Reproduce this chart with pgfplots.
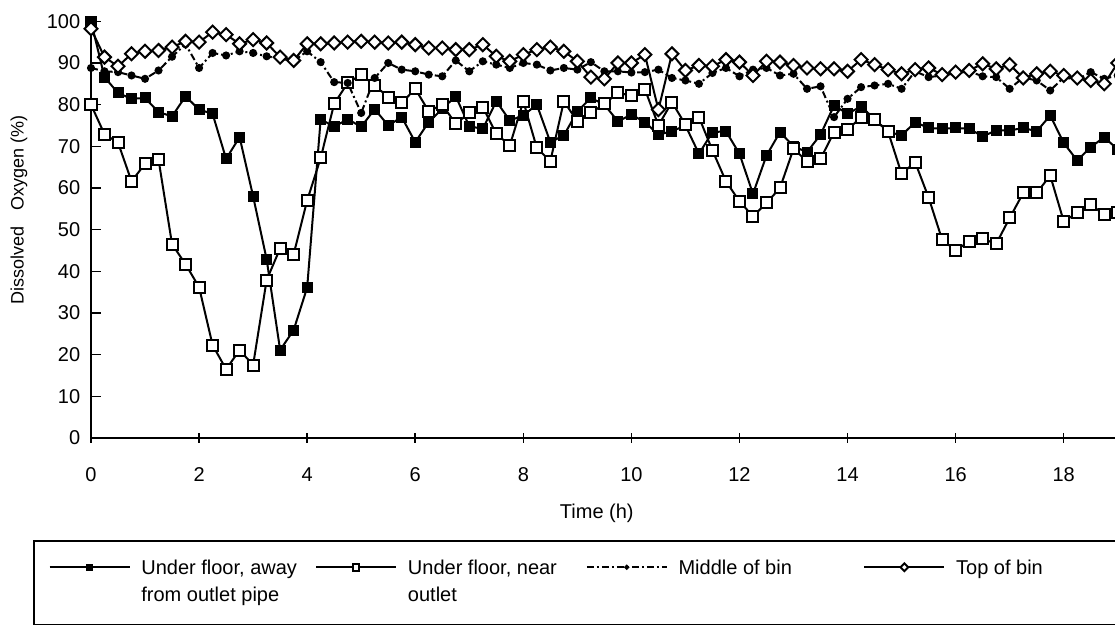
\documentclass[border=0pt]{standalone}
\usepackage{fontspec}
\setmainfont{Liberation Sans}
\usepackage{pgfplots}
\pgfplotsset{compat=1.18}
\usepackage{pgfplotstable}
\usepackage{array}
\renewcommand{\arraystretch}{1.125}
\pgfplotstableread{
x A B C D
0 100 80.0 88.8 98.2
0.25 86.6 72.9 88.0 91.4
0.5 82.8 70.9 87.8 89.2
0.75 81.4 61.6 87.0 92.2
1 81.6 65.8 86.2 92.8
1.25 78.2 66.8 88.2 93.0
1.5 77.2 46.5 91.5 93.8
1.75 82.0 41.7 94.5 95.2
2 78.8 36.2 88.8 95.0
2.25 77.8 22.3 92.4 97.4
2.5 67.0 16.5 91.8 96.8
2.75 72.2 21.1 92.8 94.6
3 58.0 17.5 92.4 95.6
3.25 42.9 37.9 91.6 94.8
3.5 21.1 45.5 91.0 91.4
3.75 25.9 44.1 90.5 90.6
4 36.1 57.0 92.8 94.6
4.25 76.5 67.2 90.2 94.6
4.5 74.7 80.2 85.4 94.8
4.75 76.5 85.2 85.2 95.0
5 74.7 87.2 78.0 95.2
5.25 78.9 84.6 86.4 95.0
5.5 75.0 81.8 90.0 94.8
5.75 77.0 80.4 88.4 95.0
6 71.0 83.8 88.0 94.4
6.25 75.8 78.4 87.2 93.6
6.5 79.0 80.0 86.8 93.6
6.75 82.0 75.4 90.6 93.2
7 74.8 78.0 88.0 93.2
7.25 74.2 79.4 90.4 94.4
7.5 80.8 73.0 89.6 91.6
7.75 76.2 70.2 88.8 90.4
8 77.4 80.8 90.0 92.0
8.25 80.0 69.6 89.6 93.2
8.5 71.0 66.4 88.2 93.8
8.75 72.6 80.8 88.8 92.8
9 78.4 76.0 88.4 90.4
9.25 81.6 78.0 90.2 86.6
9.5 80.0 80.2 88.0 86.2
9.75 76.0 82.8 88.0 90.0
10 77.6 82.2 87.7 90.0
10.25 75.8 83.7 87.8 92.0
10.5 72.8 75.0 88.4 78.8
10.75 73.6 80.6 86.4 92.2
11 75.0 75.2 85.8 88.2
11.25 68.2 77.0 85.0 89.4
11.5 73.4 69.0 87.6 89.2
11.75 73.6 61.6 88.8 90.8
12 68.2 56.8 86.8 90.2
12.25 58.6 53.2 88.4 87.0
12.5 67.8 56.4 88.8 90.4
12.75 73.4 60.0 87.0 90.2
13 70.0 69.4 87.4 89.4
13.25 68.6 66.4 83.8 88.8
13.5 72.8 67.0 84.4 88.6
13.75 79.8 73.4 77.0 88.6
14 77.8 74.0 81.4 88.0
14.25 79.6 77.0 84.2 90.8
14.5 76.5 76.5 84.6 89.6
14.75 73.5 73.5 85.0 88.4
15 72.6 63.4 83.8 87.4
15.25 75.8 66.2 88.0 88.4
15.5 74.4 57.7 86.6 88.8
15.75 74.2 47.6 87.0 87.2
16 74.4 45.0 87.5 87.8
16.25 74.2 47.2 88.0 88.2
16.5 72.4 47.8 86.8 89.8
16.75 73.8 46.6 86.6 88.6
17 73.8 52.8 83.8 89.6
17.25 74.4 58.8 86.5 86.4
17.5 73.6 58.8 85.8 87.4
17.75 77.4 63.0 83.4 88.0
18 70.8 52.0 86.5 87.0
18.25 66.6 54.0 86.0 86.4
18.5 69.8 56.0 87.8 85.8
18.75 72.2 53.6 86.2 85.0
19 69.2 54.0 87.0 90.0
}\datatable
\begin{document}
\fontsize{20bp}{24bp}\selectfont
\begin{tikzpicture}
\useasboundingbox (0,0) rectangle (1115bp,625bp);
\begin{axis}[
  at={(91bp,187bp)}, anchor=south west,
  scale only axis, width=1080.8bp, height=416.7bp,
  xmin=0, xmax=20, ymin=0, ymax=100,
  clip=false,
  axis x line*=bottom, axis y line*=left,
  axis line style={line width=1.6bp, black},
  xtick={0,2,...,18}, ytick={0,10,...,100},
  xtick align=center, ytick align=inside,
  major tick length=10bp,
  tick style={line width=1.5bp, black},
  /pgf/number format/assume math mode=true,
  tick label style={font=\fontsize{20bp}{24bp}\selectfont},
  xticklabel style={yshift=-18bp},
  yticklabel style={xshift=-4bp},
  xlabel={Time (h)},
  xlabel style={font=\fontsize{20bp}{24bp}\selectfont, at={(axis description cs:0.468,-0.18)}, anchor=center},
  ylabel={Dissolved\hspace{16bp}Oxygen (\%)},
  ylabel style={font=\fontsize{18bp}{21bp}\selectfont, at={(axis description cs:-0.0666,0.547)}, anchor=center},
  legend columns=4,
  legend image code/.code={\draw[mark repeat=2, mark phase=2, #1] plot coordinates {(0bp,0bp) (40bp,0bp) (80bp,0bp)};},
  legend image post style={yshift=7.5bp, line width=1.6bp, every mark/.append style={scale=0.6}},
  legend style={
    at={(-0.0537,-0.2448)}, anchor=north west,
    draw=black, line width=1.6bp, fill=none,
    inner xsep=15bp, inner ysep=15bp,
    cells={anchor=base west},
    nodes={inner sep=0pt, text depth=, font=\fontsize{20bp}{24bp}\selectfont},
    /tikz/every odd column/.append style={column sep=11bp},
  },
]
\addplot[black, line width=2bp, mark=square*, mark size=4.5bp, mark options={solid, fill=black}] table[x=x,y=A]{\datatable};
\addlegendentry{\begin{tabular}[t]{@{}p{174bp}@{}}Under floor, away\\from outlet pipe\end{tabular}}
\addplot[black, line width=2bp, mark=square*, mark size=5.5bp, mark options={solid, fill=white, line width=2bp}] table[x=x,y=B]{\datatable};
\addlegendentry{\begin{tabular}[t]{@{}p{178bp}@{}}Under floor, near\\outlet\end{tabular}}
\addplot[black, line width=2bp, dash pattern=on 7bp off 3bp on 2bp off 3bp, mark=*, mark size=3bp, mark options={solid, fill=black}] table[x=x,y=C]{\datatable};
\addlegendentry{\begin{tabular}[t]{@{}p{185bp}@{}}Middle of bin\\\mbox{}\end{tabular}}
\addplot[black, line width=2bp, mark=square*, mark size=4.6bp, mark options={solid, fill=white, rotate=45, line width=2bp}] table[x=x,y=D]{\datatable};
\addlegendentry{\begin{tabular}[t]{@{}p{250bp}@{}}Top of bin\\\mbox{}\end{tabular}}
\end{axis}
\end{tikzpicture}
\end{document}
